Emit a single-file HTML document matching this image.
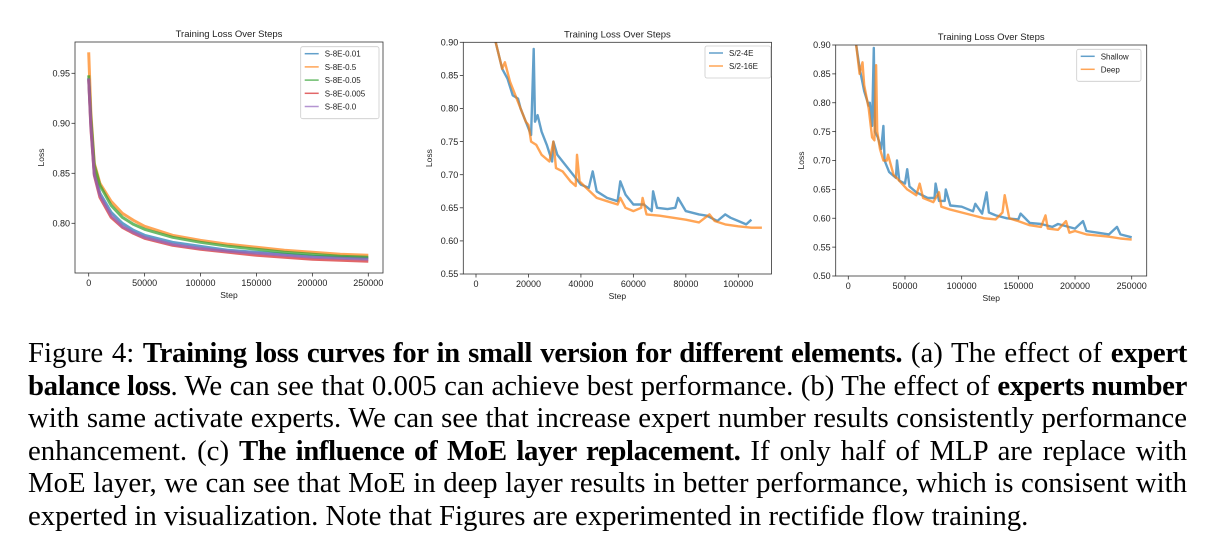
<!DOCTYPE html>
<html><head><meta charset="utf-8">
<style>
body{margin:0;background:#fff;width:1205px;height:547px;overflow:hidden;position:relative;font-family:"Liberation Sans","DejaVu Sans",sans-serif}
svg{position:absolute;left:0;top:0}
.cap{position:absolute;left:28px;width:1159px;font-family:"Liberation Serif",serif;font-size:28.8px;line-height:32.6px;color:#000;top:337px;letter-spacing:0}
.cap div{text-align:justify;text-align-last:justify;white-space:nowrap;height:32.6px}
.cap div.last{text-align-last:left}
.cap b{letter-spacing:-0.35px}
</style></head><body>
<svg id="fig" width="1205" height="330"></svg>
<div class="cap">
<div>Figure 4: <b>Training loss curves for in small version for different elements.</b> (a) The effect of <b>expert</b></div>
<div><b>balance loss</b>. We can see that 0.005 can achieve best performance. (b) The effect of <b>experts number</b></div>
<div>with same activate experts. We can see that increase expert number results consistently performance</div>
<div>enhancement. (c) <b>The influence of MoE layer replacement.</b> If only half of MLP are replace with</div>
<div>MoE layer, we can see that MoE in deep layer results in better performance, which is consisent with</div>
<div class="last">experted in visualization. Note that Figures are experimented in rectifide flow training.</div>
</div>
<script>
// ---- Chart A data ----
const aSteps=[0,2000,5000,10000,20000,30000,40000,50000,75000,100000,125000,150000,175000,200000,225000,250000];
const aNames=["S-8E-0.01","S-8E-0.5","S-8E-0.05","S-8E-0.005","S-8E-0.0"];
const aBlue=[0.945,0.90,0.850,0.830,0.811,0.800,0.793,0.788,0.781,0.777,0.773,0.771,0.769,0.767,0.766,0.765];
const aOrange=[0.971,0.91,0.860,0.840,0.822,0.810,0.803,0.797,0.788,0.783,0.779,0.776,0.773,0.771,0.769,0.768];
const aGreen=[0.948,0.905,0.858,0.838,0.818,0.806,0.799,0.794,0.786,0.781,0.777,0.774,0.771,0.769,0.767,0.766];
const aRed=[0.944,0.895,0.848,0.826,0.806,0.796,0.790,0.785,0.778,0.774,0.771,0.768,0.766,0.764,0.763,0.762];
const aPurple=[0.945,0.897,0.849,0.828,0.808,0.797,0.791,0.786,0.779,0.775,0.772,0.770,0.768,0.766,0.765,0.764];
const aYTicks=[0.80,0.85,0.90,0.95];
const aXTicks=[0,50000,100000,150000,200000,250000];
// ---- Chart B data ----
const bNames=["S/2-4E","S/2-16E"];
const b4eSteps=[7500,10000,12000,14000,16000,17000,19000,21000,22000,22500,23500,25000,27000,29000,29500,31000,34000,37000,40000,43000,44500,46000,50000,54000,55000,57000,60000,64000,67000,67500,69000,73000,76000,77000,80000,85000,88000,92000,95000,97000,100000,103000,105000];
const b4eLoss=[.90,.86,.845,.82,.815,.80,.78,.76,.89,.78,.79,.765,.745,.72,.75,.73,.715,.70,.685,.68,.705,.675,.665,.66,.69,.67,.655,.655,.645,.675,.65,.648,.65,.665,.645,.64,.638,.63,.64,.635,.63,.625,.632];
const b16eSteps=[7500,10000,11000,13000,16000,19000,20000,21000,23000,25000,28000,29500,30500,33000,36000,38000,38500,39500,42000,46000,50000,54000,55000,57000,60000,63000,63500,65000,70000,75000,80000,85000,89000,91000,95000,100000,105000,109000];
const b16eLoss=[.90,.86,.87,.84,.81,.78,.775,.75,.745,.73,.72,.75,.71,.705,.69,.683,.73,.69,.68,.665,.66,.655,.665,.65,.645,.65,.665,.64,.638,.635,.632,.628,.64,.63,.625,.622,.62,.62];
const bYTicks=[0.55,0.60,0.65,0.70,0.75,0.80,0.85,0.90];
const bXTicks=[0,20000,40000,60000,80000,100000];
// ---- Chart C data ----
const cNames=["Shallow","Deep"];
const cShSteps=[7000,10000,14000,18000,19000,21000,22500,23500,26000,29000,31000,32000,36000,42000,43000,45000,50000,52000,54000,60000,70000,76000,77000,80000,85000,86000,90000,100000,110000,112000,118000,122000,124000,130000,140000,150000,152000,160000,170000,180000,185000,200000,207000,210000,220000,230000,237000,240000,250000];
const cShLoss=[.90,.86,.82,.795,.80,.76,.895,.75,.74,.72,.76,.70,.68,.67,.70,.665,.66,.685,.655,.645,.635,.635,.66,.63,.63,.65,.622,.62,.612,.625,.608,.645,.61,.605,.60,.598,.608,.592,.59,.585,.59,.582,.595,.578,.575,.572,.585,.572,.567];
const cDpSteps=[7000,10000,12500,14000,18000,21000,23000,24500,25500,28000,31000,34000,35000,40000,45000,52000,60000,63000,66000,75000,80000,82000,90000,100000,110000,120000,130000,136000,138000,142000,150000,160000,170000,174000,176000,185000,192000,195000,200000,210000,220000,230000,240000,250000];
const cDpLoss=[.90,.85,.87,.83,.79,.74,.735,.865,.75,.72,.70,.70,.71,.675,.665,.65,.64,.66,.635,.628,.645,.62,.615,.61,.605,.60,.598,.61,.64,.60,.595,.588,.585,.605,.582,.58,.595,.575,.578,.572,.57,.568,.565,.563];
const cYTicks=[0.50,0.55,0.60,0.65,0.70,0.75,0.80,0.85,0.90];
const cXTicks=[0,50000,100000,150000,200000,250000];

const NS="http://www.w3.org/2000/svg";
const svg=document.getElementById('fig');
function mk(tag,attrs,parent){const e=document.createElementNS(NS,tag);for(const k in attrs)e.setAttribute(k,attrs[k]);(parent||svg).appendChild(e);return e;}
function txt(s,attrs,parent){const e=mk('text',attrs,parent);e.textContent=s;return e;}

function chart(cfg){
  const g=mk('g',{});
  
  
  const xs=v=>cfg.px0+(v-cfg.x0)*(cfg.px1-cfg.px0)/(cfg.x1-cfg.x0);
  const ys=v=>cfg.py0+(v-cfg.y0)*(cfg.py1-cfg.py0)/(cfg.y1-cfg.y0);
  const clip='clip'+cfg.name;
  const cp=mk('clipPath',{id:clip},g);mk('rect',{x:cfg.L,y:cfg.T,width:cfg.R-cfg.L,height:cfg.B-cfg.T},cp);
  const sg=mk('g',{'clip-path':'url(#'+clip+')'},g);
  cfg.series.forEach((s,i)=>{
    const p=mk('polyline',{points:s.x.map((v,j)=>xs(v).toFixed(1)+','+ys(s.y[j]).toFixed(1)).join(' '),fill:'none',stroke:s.c,'stroke-width':cfg.sw,'stroke-opacity':0.7,'stroke-linejoin':'round'},sg);
    
    
  });
  const frame=mk('rect',{x:cfg.L,y:cfg.T,width:cfg.R-cfg.L,height:cfg.B-cfg.T,fill:'none',stroke:'#333','stroke-width':0.8},g);
  
  
  cfg.yt.forEach(v=>{const y=ys(v);mk('line',{x1:cfg.L-3.5,x2:cfg.L,y1:y,y2:y,stroke:'#333','stroke-width':0.8},g);
    const t=txt(v.toFixed(2),{x:cfg.L-5,y:y+3.2,'font-size':9,'text-anchor':'end',fill:'#222'},g);
    });
  cfg.xt.forEach(v=>{const x=xs(v);mk('line',{x1:x,x2:x,y1:cfg.B,y2:cfg.B+3.5,stroke:'#333','stroke-width':0.8},g);
    const t=txt(String(v),{x:x,y:cfg.B+13,'font-size':9,'text-anchor':'middle',fill:'#222'},g);
    });
  const ti=txt('Training Loss Over Steps',{x:(cfg.L+cfg.R)/2,y:cfg.T-5,'font-size':9.5,'text-anchor':'middle',fill:'#222'},g);
  
  const xl=txt('Step',{x:(cfg.L+cfg.R)/2,y:cfg.B+25,'font-size':8.5,'text-anchor':'middle',fill:'#222'},g);
  
  const yl=txt('Loss',{x:0,y:0,'font-size':8.5,'text-anchor':'middle',fill:'#222',transform:'translate('+cfg.ylx+','+(cfg.T+cfg.B)/2+') rotate(-90)'},g);
  
  const lg=mk('g',{},g);
  
  mk('rect',{x:cfg.lg[0],y:cfg.lg[1],width:cfg.lg[2],height:cfg.series.length*cfg.lgs+6,fill:'#fff',stroke:'#ccc','stroke-width':0.8,rx:2},lg);
  cfg.series.forEach((s,i)=>{const y=cfg.lg[1]+7+i*cfg.lgs;
    mk('line',{x1:cfg.lg[0]+4,x2:cfg.lg[0]+18,y1:y,y2:y,stroke:s.c,'stroke-width':1.5,'stroke-opacity':0.7},lg);
    const t=txt(s.n,{x:cfg.lg[0]+24,y:y+3,'font-size':cfg.lfs,fill:'#222'},lg);
    });
}
chart({name:'chart-expert-balance',L:75,R:383,T:42,B:273,x0:0,x1:250000,px0:88.7,px1:368.3,y0:0.95,y1:0.80,py0:73.3,py1:223.3,
  yt:aYTicks,xt:aXTicks,ylx:44,sw:3,lg:[300.7,46.7,78.3],lgs:13.2,lfs:8,
  series:[{n:aNames[0],x:aSteps,y:aBlue,c:'#1f77b4'},{n:aNames[1],x:aSteps,y:aOrange,c:'#ff7f0e'},{n:aNames[2],x:aSteps,y:aGreen,c:'#2ca02c'},{n:aNames[3],x:aSteps,y:aRed,c:'#d62728'},{n:aNames[4],x:aSteps,y:aPurple,c:'#9467bd'}]});
chart({name:'chart-experts-number',L:463.3,R:771.5,T:42.3,B:274,x0:0,x1:100000,px0:476,px1:738.3,y0:0.90,y1:0.55,py0:42.3,py1:274,
  yt:bYTicks,xt:bXTicks,ylx:432,sw:2.4,lg:[705,46,65.7],lgs:13,lfs:8,
  series:[{n:bNames[0],x:b4eSteps,y:b4eLoss,c:'#1f77b4'},{n:bNames[1],x:b16eSteps,y:b16eLoss,c:'#ff7f0e'}]});
chart({name:'chart-moe-layer',L:835.7,R:1146.7,T:45,B:276,x0:0,x1:250000,px0:848.3,px1:1131.7,y0:0.90,y1:0.50,py0:45,py1:276,
  yt:cYTicks,xt:cXTicks,ylx:804,sw:2.4,lg:[1076.7,49.3,64.3],lgs:13,lfs:8,
  series:[{n:cNames[0],x:cShSteps,y:cShLoss,c:'#1f77b4'},{n:cNames[1],x:cDpSteps,y:cDpLoss,c:'#ff7f0e'}]});
</script>
</body></html>
